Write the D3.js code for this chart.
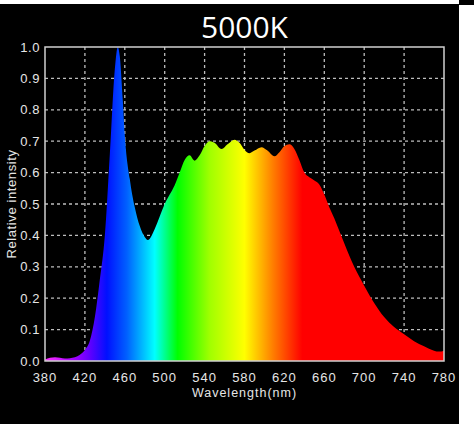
<!DOCTYPE html>
<html>
<head>
<meta charset="utf-8">
<script src="https://cdn.jsdelivr.net/npm/d3@7"></script>
<style>
  html, body { margin: 0; padding: 0; background: #000; }
  svg { display: block; }
</style>
</head>
<body>
<div id="chart"></div>
<script>
// spectrum (nm, relative intensity)
var wavelengths = [380, 385, 390, 395, 400, 405, 410, 415, 420, 425, 430, 435, 440, 445, 450, 453, 455, 458, 460, 465,
  470, 475, 480, 483, 487, 490, 495, 500, 505, 510, 515, 520, 525, 530, 535, 540, 545, 550, 557, 563,
  570, 575, 580, 585, 590, 597, 603, 610, 615, 620, 625, 630, 635, 640, 645, 650, 655, 660, 665, 670,
  675, 680, 690, 700, 710, 720, 730, 740, 750, 760, 770, 775, 780];
var intensity = [0.005, 0.01, 0.012, 0.01, 0.008, 0.009, 0.012, 0.02, 0.035, 0.065, 0.14, 0.26, 0.4, 0.66, 0.93, 1.0, 0.97, 0.83, 0.72, 0.58,
  0.49, 0.43, 0.395, 0.385, 0.4, 0.42, 0.46, 0.5, 0.53, 0.56, 0.6, 0.64, 0.655, 0.638, 0.655, 0.685, 0.7, 0.695, 0.675, 0.69,
  0.705, 0.695, 0.672, 0.662, 0.67, 0.681, 0.67, 0.652, 0.665, 0.685, 0.69, 0.675, 0.64, 0.6, 0.585, 0.575, 0.562, 0.53, 0.49, 0.455,
  0.415, 0.375, 0.3, 0.24, 0.185, 0.14, 0.108, 0.085, 0.063, 0.047, 0.033, 0.03, 0.033];

var xTicks = [380, 420, 460, 500, 540, 580, 620, 660, 700, 740, 780];
var yTicks = [0, 0.1, 0.2, 0.3, 0.4, 0.5, 0.6, 0.7, 0.8, 0.9, 1.0];

var title = "5000K";
var xLabel = "Wavelength(nm)";
var yLabel = "Relative intensity";

// colour of the fill along the wavelength axis
var rainbow = [
  [380, "#ff30ff"], [410, "#a000ff"], [425, "#6000ff"], [442, "#0010ff"], [462, "#0060ff"],
  [490, "#00ffff"], [513, "#00ff00"], [545, "#a0ff00"], [580, "#ffff00"], [608, "#ff8000"],
  [638, "#ff0000"], [780, "#ff0000"]
];

var cfg = {
  w: 474,
  h: 424,
  left: 45,
  right: 444,
  top: 47,
  bottom: 361,
  tickFont: "'Liberation Sans', Arial, sans-serif",
  textColor: "#e6e6e6",
  gridColor: "#bdbdbd"
};

var svg = d3.select("#chart").append("svg")
  .attr("width", cfg.w)
  .attr("height", cfg.h);

svg.append("rect").attr("width", cfg.w).attr("height", cfg.h).attr("fill", "#000");
// white strips at the top and right edge of the screenshot
svg.append("rect").attr("x", 0).attr("y", 0).attr("width", 459).attr("height", 4).attr("fill", "#fff");
svg.append("rect").attr("x", 459).attr("y", 5).attr("width", 15).attr("height", cfg.h - 5).attr("fill", "#fff");

var x = d3.scaleLinear().domain([380, 780]).range([cfg.left, cfg.right]);
var y = d3.scaleLinear().domain([0, 1]).range([cfg.bottom, cfg.top]);

var grad = svg.append("defs").append("linearGradient")
  .attr("id", "spectrum")
  .attr("gradientUnits", "userSpaceOnUse")
  .attr("x1", x(380)).attr("x2", x(780))
  .attr("y1", 0).attr("y2", 0);
grad.selectAll("stop")
  .data(rainbow)
  .enter()
  .append("stop")
  .attr("offset", function(d){return (d[0] - 380) / 400;})
  .attr("stop-color", function(d){return d[1];});

//grid
var grid = svg.append("g");
grid.selectAll(".vg")
  .data(xTicks.slice(1, -1))
  .enter()
  .append("line")
  .attr("x1", function(d){return x(d);})
  .attr("x2", function(d){return x(d);})
  .attr("y1", cfg.top)
  .attr("y2", cfg.bottom)
  .style("stroke", cfg.gridColor)
  .style("stroke-width", "1.3px")
  .style("stroke-dasharray", "3,3");
grid.selectAll(".hg")
  .data(yTicks.slice(1, -1))
  .enter()
  .append("line")
  .attr("x1", cfg.left)
  .attr("x2", cfg.right)
  .attr("y1", function(d){return y(d);})
  .attr("y2", function(d){return y(d);})
  .style("stroke", cfg.gridColor)
  .style("stroke-width", "1.3px")
  .style("stroke-dasharray", "3,3");

//spectrum area
var pts = wavelengths.map(function(w, i){return [w, intensity[i]];});
var area = d3.area()
  .x(function(d){return x(d[0]);})
  .y0(y(0))
  .y1(function(d){return y(d[1]);})
  .curve(d3.curveMonotoneX);
svg.append("path")
  .datum(pts)
  .attr("d", area)
  .attr("fill", "url(#spectrum)");

//frame
svg.append("rect")
  .attr("x", cfg.left)
  .attr("y", cfg.top)
  .attr("width", cfg.right - cfg.left)
  .attr("height", cfg.bottom - cfg.top)
  .attr("fill", "none")
  .style("stroke", "#d0d0d0")
  .style("stroke-width", "1.5px");

//tick labels
svg.selectAll(".xt")
  .data(xTicks)
  .enter()
  .append("text")
  .attr("x", function(d){return x(d);})
  .attr("y", 382)
  .attr("text-anchor", "middle")
  .style("font-family", cfg.tickFont)
  .style("font-size", "13px")
  .style("letter-spacing", "1px")
  .attr("fill", cfg.textColor)
  .text(function(d){return d;});

svg.selectAll(".yt")
  .data(yTicks)
  .enter()
  .append("text")
  .attr("x", 40)
  .attr("y", function(d){return y(d);})
  .attr("dy", "0.35em")
  .attr("text-anchor", "end")
  .style("font-family", cfg.tickFont)
  .style("font-size", "13px")
  .style("letter-spacing", "0.6px")
  .attr("fill", cfg.textColor)
  .text(function(d){return d.toFixed(1);});

svg.append("text")
  .attr("x", (cfg.left + cfg.right) / 2)
  .attr("y", 397)
  .attr("text-anchor", "middle")
  .style("font-family", cfg.tickFont)
  .style("font-size", "12.5px")
  .style("letter-spacing", "1px")
  .attr("fill", cfg.textColor)
  .text(xLabel);

svg.append("text")
  .attr("transform", "translate(16," + ((cfg.top + cfg.bottom) / 2) + ") rotate(-90)")
  .attr("text-anchor", "middle")
  .style("font-family", cfg.tickFont)
  .style("font-size", "13px")
  .style("letter-spacing", "0.6px")
  .attr("fill", cfg.textColor)
  .text(yLabel);

svg.append("text")
  .attr("x", (cfg.left + cfg.right) / 2)
  .attr("y", 38)
  .attr("text-anchor", "middle")
  .style("font-family", "'Open Sans', 'Noto Sans', sans-serif")
  .style("font-size", "30px")
  .attr("fill", "#fff")
  .text(title);
</script>
</body>
</html>
